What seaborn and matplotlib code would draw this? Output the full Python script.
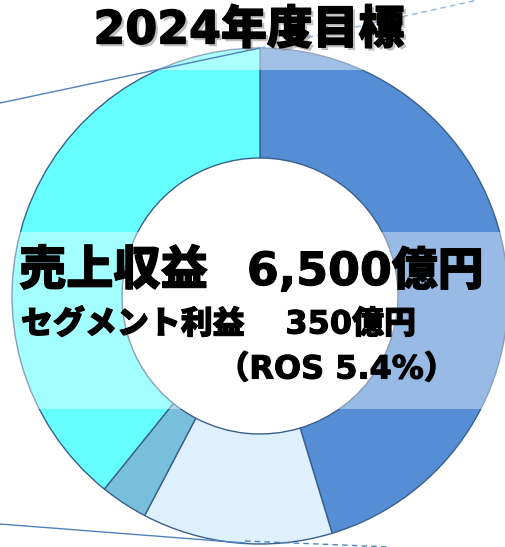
import matplotlib
matplotlib.use("Agg")
import matplotlib.pyplot as plt
import matplotlib.patheffects as pe
import seaborn as sns

# ---- data ----
segments = ["A", "B", "C", "D"]
shares = [45.3, 12.4, 3.1, 39.2]
colors = ["#558ED5", "#DEF0FD", "#77BFDA", "#66FFFF"]
title = "2024年度目標"
line1_label = "売上収益"
line1_value = "6,500億円"
line2_label = "セグメント利益"
line2_value = "350億円"
line3 = "（ROS 5.4%）"

sns.set_theme(style="white")
fam = ["DejaVu Sans", "Noto Sans CJK JP"]
plt.rcParams["font.family"] = fam

W, H = 506, 547
fig = plt.figure(figsize=(W / 100, H / 100), dpi=100)
ax = fig.add_axes([0, 0, 1, 1])


def Y(y):
    return H - y


cx, cy, R, r = 260, 296, 248, 138
ax.pie(shares, colors=colors, startangle=90, counterclock=False,
       center=(cx, Y(cy)), radius=R,
       wedgeprops=dict(width=R - r, edgecolor="#3A5F8C", linewidth=1.0),
       frame=True)
ax.set_xlim(0, W)
ax.set_ylim(0, H)
ax.set_aspect("equal")
ax.axis("off")

# translucent bands
ax.axhspan(Y(409), Y(232), color="white", alpha=0.40, lw=0, zorder=3)
ax.axhspan(Y(70), Y(40), color="white", alpha=0.45, lw=0, zorder=3)

# connector lines
ax.plot([0, 260], [Y(103), Y(48)], color="#4F81BD", lw=1.0, zorder=4)
ax.plot([260, 478], [Y(48), Y(0)], color="#8EB4E3", lw=1.0, ls=(0, (4, 3)), zorder=4)
ax.plot([0, 245], [Y(524), Y(543)], color="#4F81BD", lw=1.0, zorder=4)
ax.plot([245, 390], [Y(541), Y(547)], color="#4F81BD", lw=1.0, ls=(0, (4, 3)), zorder=4)

wt = "heavy"
stroke = [pe.withStroke(linewidth=0.8, foreground="black")]

# title with soft shadow
ax.text(249, Y(31), title, ha="center", va="center", fontsize=33,
        fontweight=wt, color="black", family=fam, zorder=6,
        path_effects=[pe.withSimplePatchShadow(offset=(2, -2), shadow_rgbFace="gray", alpha=0.5),
                      pe.withStroke(linewidth=1.0, foreground="black")])

# center texts
ax.text(19, Y(272), line1_label, ha="left", va="center", fontsize=34,
        fontweight=wt, color="black", family=fam, zorder=6, path_effects=stroke)
ax.text(484, Y(272), line1_value, ha="right", va="center", fontsize=33,
        fontweight=wt, color="black", family=fam, zorder=6, path_effects=stroke)
ax.text(21, Y(325), line2_label, ha="left", va="center", fontsize=23,
        fontweight=wt, color="black", family=fam, zorder=6, path_effects=stroke)
ax.text(416, Y(325), line2_value, ha="right", va="center", fontsize=23,
        fontweight=wt, color="black", family=fam, zorder=6, path_effects=stroke)
ax.text(456, Y(370), line3, ha="right", va="center", fontsize=23,
        fontweight=wt, color="black", family=fam, zorder=6, path_effects=stroke)

fig.savefig("out.png", dpi=100)
